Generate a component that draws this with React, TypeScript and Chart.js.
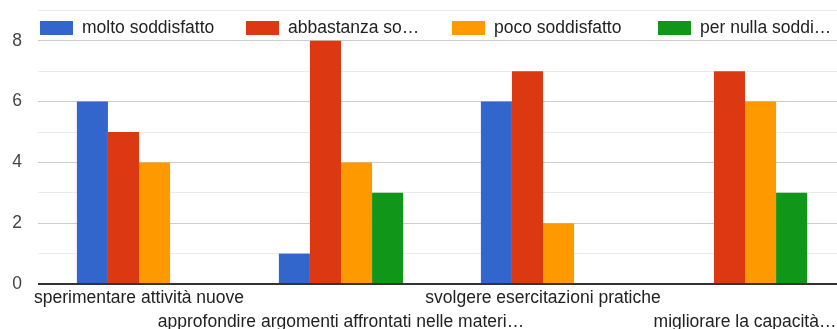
import React, { useEffect, useRef } from "react";
import { Chart, registerables } from "chart.js";
Chart.register(...registerables);

const categories = [
  "sperimentare attività nuove",
  "approfondire argomenti affrontati nelle materi…",
  "svolgere esercitazioni pratiche",
  "migliorare la capacità…",
];
const seriesNames = ["molto soddisfatto", "abbastanza so…", "poco soddisfatto", "per nulla soddi…"];
const moltoSoddisfatto = [6, 1, 6, 0];
const abbastanzaSoddisfatto = [5, 8, 7, 7];
const pocoSoddisfatto = [4, 4, 2, 6];
const perNullaSoddisfatto = [0, 3, 0, 3];
const seriesColors = ["#3366cc", "#dc3912", "#ff9900", "#109618"];
const yTickLabels = [0, 2, 4, 6, 8, 10];

const FONT = "'Liberation Sans', Arial, sans-serif";
const CANVAS_TOP = -40;

const legendPlugin = {
  id: "overlayLegend",
  afterDraw(chart: any) {
    const ctx = chart.ctx;
    ctx.save();
    ctx.font = `17.5px ${FONT}`;
    ctx.textBaseline = "middle";
    ctx.textAlign = "left";
    const y = 21 - CANVAS_TOP;
    chart.data.datasets.forEach((ds: any, i: number) => {
      const x = 40 + i * 206;
      ctx.fillStyle = ds.backgroundColor;
      ctx.fillRect(x, y, 33, 14);
      ctx.fillStyle = "#222";
      ctx.fillText(ds.label, x + 42, y + 7.5);
    });
    ctx.restore();
  },
};

export default function App() {
  const ref = useRef<HTMLCanvasElement>(null);
  useEffect(() => {
    if (!ref.current) return;
    const values = [moltoSoddisfatto, abbastanzaSoddisfatto, pocoSoddisfatto, perNullaSoddisfatto];
    const chart = new Chart(ref.current, {
      type: "bar",
      data: {
        labels: categories,
        datasets: seriesNames.map((name, i) => ({
          label: name,
          data: values[i],
          backgroundColor: seriesColors[i],
          borderWidth: 0,
          barPercentage: 1,
          categoryPercentage: 0.615,
        })),
      },
      options: {
        animation: false,
        responsive: true,
        maintainAspectRatio: false,
        layout: { padding: { top: 20, right: 14, left: 0, bottom: 0 } },
        plugins: { legend: { display: false }, tooltip: { enabled: false } },
        scales: {
          x: {
            grid: { display: false, drawTicks: false },
            border: { display: false },
            afterFit: (s: any) => {
              s.height = 50;
              s.paddingLeft = 0;
              s.paddingRight = 0;
            },
            ticks: {
              autoSkip: false,
              maxRotation: 0,
              minRotation: 0,
              padding: 3,
              color: "#222",
              font: { family: FONT, size: 17.5, lineHeight: 1.33 },
              callback: (_v: any, i: number) => (i % 2 === 0 ? [categories[i], ""] : ["", categories[i]]),
            },
          },
          y: {
            min: 0,
            max: 10,
            border: { display: false },
            afterFit: (s: any) => {
              s.width = 38;
              s.paddingTop = 0;
              s.paddingBottom = 0;
            },
            grid: {
              drawTicks: false,
              color: (c: any) =>
                c.tick && c.tick.value === 0 ? "#333" : c.tick && c.tick.value % 2 === 0 ? "#cccccc" : "#ebebeb",
              lineWidth: (c: any) => (c.tick && c.tick.value === 0 ? 2 : 1),
            },
            ticks: {
              stepSize: 1,
              padding: 16,
              color: "#444",
              font: { family: FONT, size: 17.5 },
              callback: (v: any) => (yTickLabels.includes(v) ? String(v) : ""),
            },
          },
        },
      },
      plugins: [legendPlugin],
    });
    return () => chart.destroy();
  }, []);
  return (
    <div style={{ position: "fixed", left: 0, top: 0, width: 837, height: 329, overflow: "hidden", background: "#fff" }}>
      <div style={{ position: "absolute", left: 0, top: CANVAS_TOP, width: 860, height: 374 }}>
        <canvas ref={ref} />
      </div>
    </div>
  );
}
